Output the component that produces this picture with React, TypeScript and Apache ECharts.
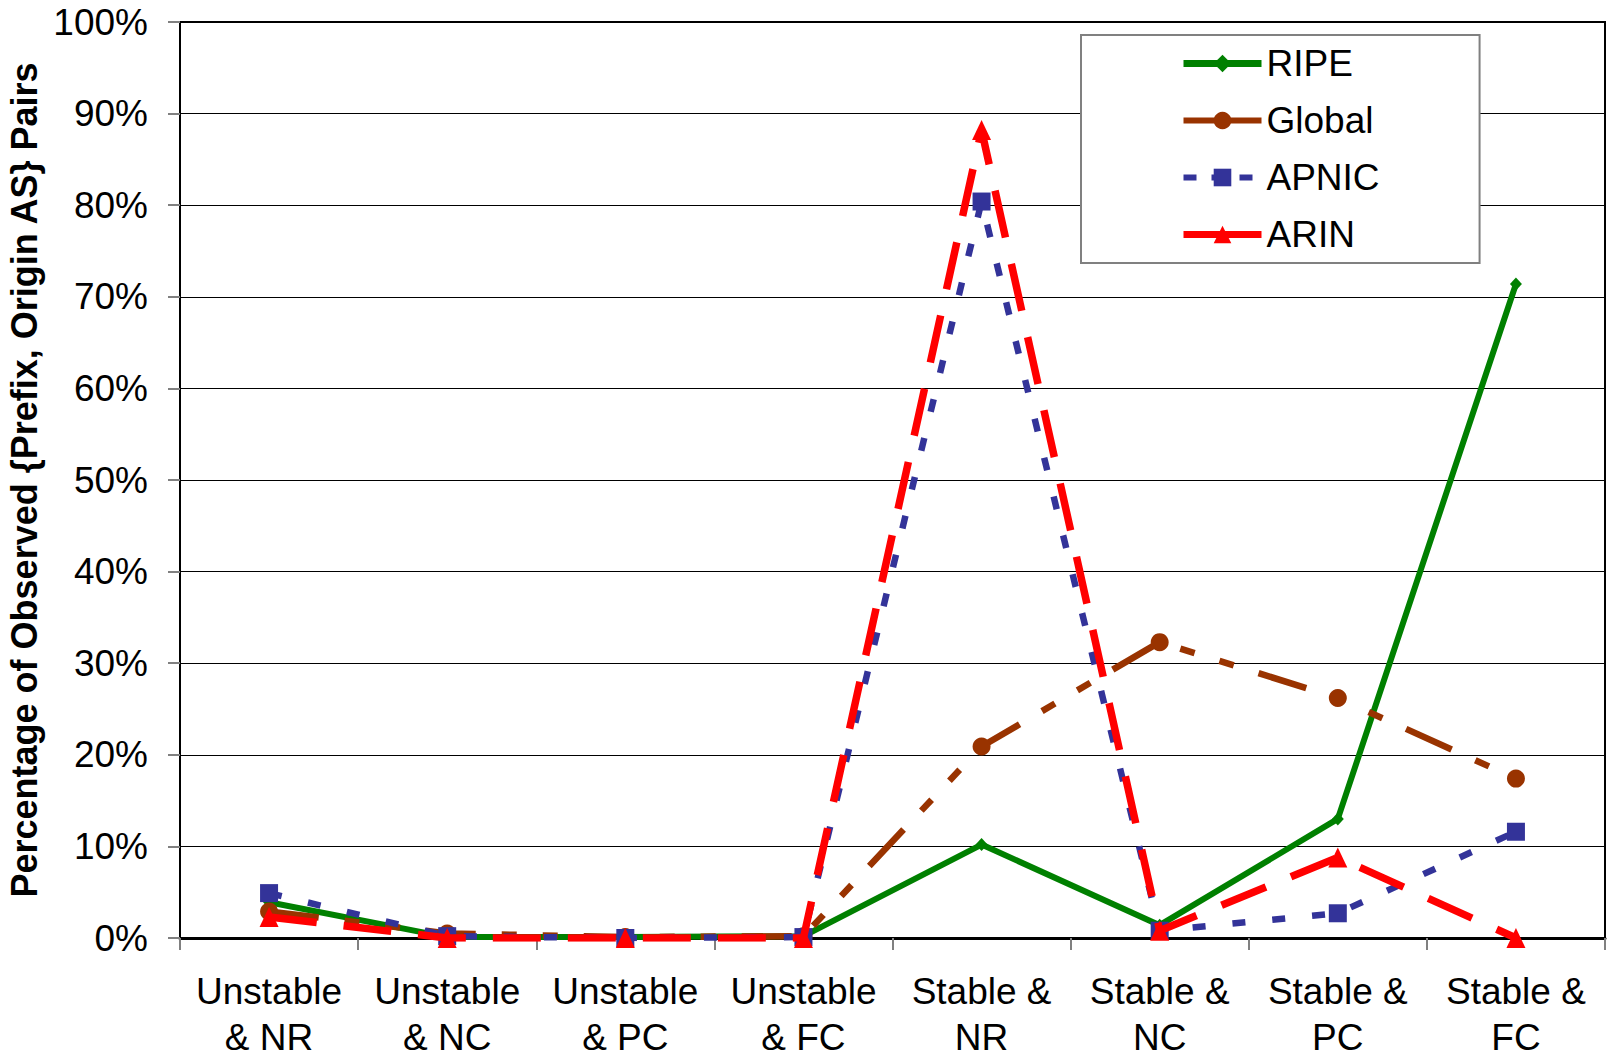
import React, { useEffect, useRef } from "react";
import * as echarts from "echarts";

const categories = [
  "Unstable\n& NR",
  "Unstable\n& NC",
  "Unstable\n& PC",
  "Unstable\n& FC",
  "Stable &\nNR",
  "Stable &\nNC",
  "Stable &\nPC",
  "Stable &\nFC",
];
const ripeValues = [3.9, 0.1, 0.1, 0.2, 10.2, 1.4, 13.0, 71.4];
const globalValues = [2.9, 0.5, 0.1, 0.2, 20.9, 32.3, 26.2, 17.4];
const apnicValues = [4.9, 0.2, 0.0, 0.1, 80.4, 0.8, 2.7, 11.6];
const arinValues = [2.3, 0.0, 0.0, 0.0, 88.2, 0.8, 8.8, 0.0];
const yTitle = "Percentage of Observed {Prefix, Origin AS} Pairs";

const FONT = "'Liberation Sans', Arial, Helvetica, sans-serif";

export default function App() {
  const ref = useRef<HTMLDivElement>(null);
  useEffect(() => {
    if (!ref.current) return;
    const chart = echarts.init(ref.current, null, { renderer: "svg" });
    const option: any = {
      animation: false,
      backgroundColor: "#ffffff",
      textStyle: { fontFamily: FONT },
      grid: {
        left: 180,
        top: 22,
        right: 3,
        bottom: 118,
        show: true,
        borderColor: "#000",
        borderWidth: 2,
        backgroundColor: "transparent",
        containLabel: false,
        outerBoundsMode: "none",
      },
      legend: {
        orient: "vertical",
        left: 1081,
        top: 35,
        padding: [10, 100, 10, 99],
        itemWidth: 78,
        itemHeight: 22,
        itemGap: 20,
        backgroundColor: "#ffffff",
        borderColor: "#808080",
        borderWidth: 2,
        textStyle: { fontFamily: FONT, fontSize: 37, color: "#000", lineHeight: 36 },
        data: [
          { name: "RIPE", lineStyle: { width: 7, type: "solid" } },
          { name: "Global", lineStyle: { width: 6, type: "solid" } },
          { name: "APNIC", lineStyle: { width: 6, type: [13, 15] } },
          { name: "ARIN", lineStyle: { width: 7, type: "solid" } },
        ],
      },
      xAxis: {
        type: "category",
        data: categories,
        boundaryGap: true,
        axisLine: { show: true, lineStyle: { color: "#000", width: 3 } },
        axisTick: { show: true, length: 12, lineStyle: { color: "#808080", width: 2 } },
        axisLabel: {
          interval: 0,
          fontFamily: FONT,
          fontSize: 37,
          lineHeight: 46,
          color: "#000",
          margin: 30,
        },
        splitLine: { show: false },
      },
      yAxis: {
        type: "value",
        min: 0,
        max: 100,
        interval: 10,
        name: yTitle,
        nameLocation: "middle",
        nameRotate: 90,
        nameGap: 125,
        nameTextStyle: { fontFamily: FONT, fontSize: 36, fontWeight: "bold", color: "#000" },
        axisLine: { show: true, lineStyle: { color: "#000", width: 2 } },
        axisTick: { show: true, length: 12, lineStyle: { color: "#808080", width: 2 } },
        axisLabel: {
          fontFamily: FONT,
          fontSize: 37,
          color: "#000",
          margin: 32,
          formatter: "{value}%",
        },
        splitLine: { show: true, lineStyle: { color: "#000", width: 1 } },
      },
      series: [
        {
          name: "RIPE",
          type: "line",
          data: ripeValues,
          symbol: "diamond",
          symbolSize: [12, 13],
          color: "#008000",
          itemStyle: { color: "#008000" },
          lineStyle: { color: "#008000", width: 6, type: "solid" },
          z: 2,
        },
        {
          name: "Global",
          type: "line",
          data: globalValues,
          symbol: "circle",
          symbolSize: 18,
          color: "#993300",
          itemStyle: { color: "#993300" },
          lineStyle: { color: "#993300", width: 6.5, type: [50, 26, 15, 26, 15, 26] },
          z: 3,
        },
        {
          name: "APNIC",
          type: "line",
          data: apnicValues,
          symbol: "rect",
          symbolSize: 18,
          color: "#333399",
          itemStyle: { color: "#333399" },
          lineStyle: { color: "#333399", width: 6.5, type: [13, 27] },
          z: 4,
        },
        {
          name: "ARIN",
          type: "line",
          data: arinValues,
          symbol: "triangle",
          symbolSize: [19, 20],
          color: "#ff0000",
          itemStyle: { color: "#ff0000" },
          lineStyle: { color: "#ff0000", width: 7.5, type: [48, 27] },
          z: 5,
        },
      ],
    };
    chart.setOption(option);
    return () => chart.dispose();
  }, []);
  return (
    <div
      ref={ref}
      style={{ position: "fixed", left: 0, top: 0, width: 1608, height: 1056, background: "#fff" }}
    />
  );
}
